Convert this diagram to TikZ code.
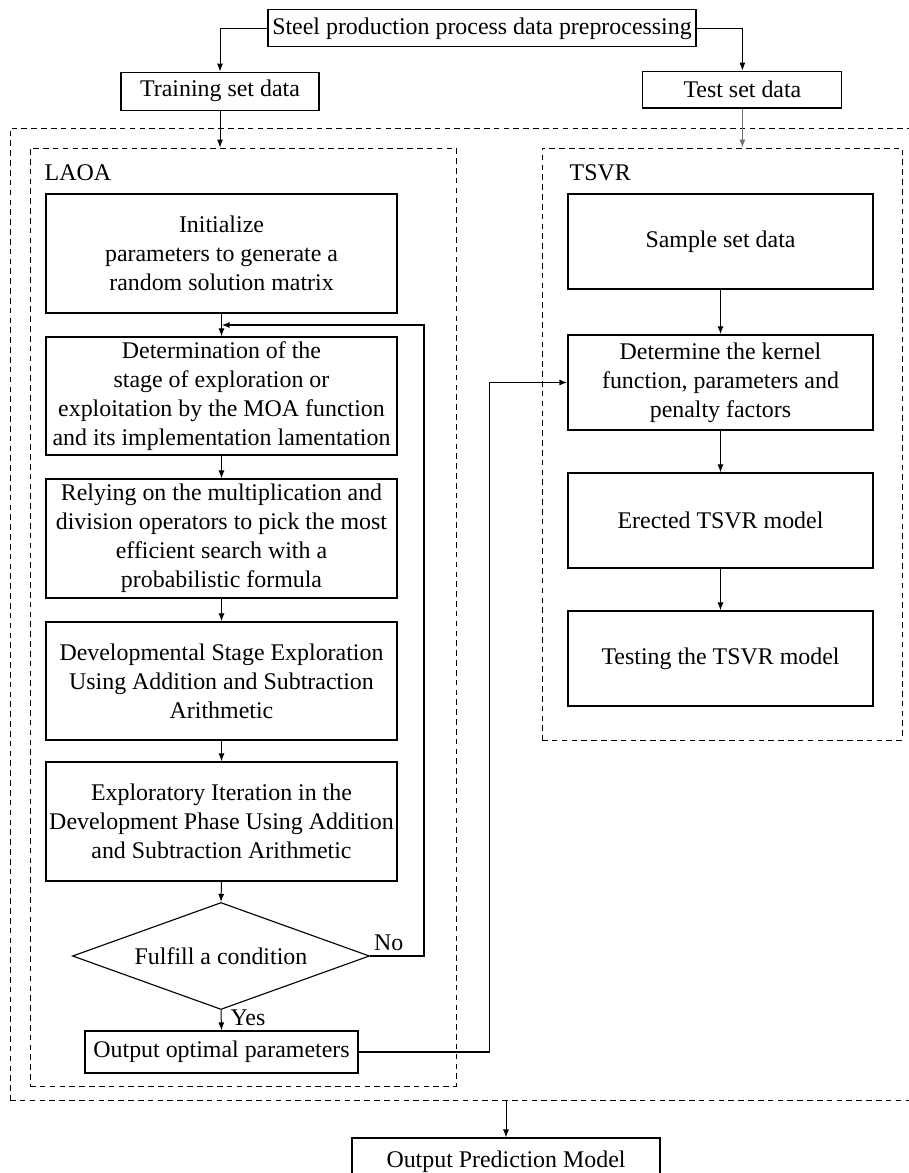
\documentclass[tikz,border=0pt]{standalone}
\usepackage{fontspec}
\setmainfont{Liberation Serif}
\usetikzlibrary{calc,positioning,arrows.meta,shapes.geometric}

\begin{document}
\begin{tikzpicture}[
    every node/.style={font=\fontsize{17}{20.6}\selectfont},
    box/.style={draw, line width=0.8pt, align=center, inner sep=2pt,
                minimum height=0.95cm},
    laobox/.style={box, minimum width=8.775cm, minimum height=2.95cm},
    svrbox/.style={box, minimum width=7.625cm, minimum height=2.375cm},
    frame/.style={draw, line width=0.7pt, dash pattern=on 4pt off 3pt,
                  inner sep=0pt},
    cond/.style={diamond, draw, line width=0.8pt, inner sep=0pt, align=center,
                 shape aspect=2.78, minimum width=7.425cm, minimum height=2.675cm},
    lbl/.style={inner sep=1pt},
    arr/.style={-{Latex[length=2mm,width=1.5mm]}, line width=0.7pt},
    barr/.style={-{Latex[length=2mm,width=1.5mm]}, line width=1.1pt},
    garr/.style={-{Latex[length=2mm,width=1.5mm]}, line width=0.6pt, color=black!55},
  ]
    \useasboundingbox (0,0) rectangle (22.725,-29.325);

    % Entrada de datos
    \node[box, minimum width=10.7cm, minimum height=0.925cm] (steel) at (12.05,-0.71)
        {Steel production process data preprocessing};
    \node[box, minimum width=4.95cm] (train) at (5.5,-2.28) {Training set data};
    \node[box, minimum width=4.975cm, minimum height=0.92cm] (test) at (18.56,-2.24) {Test set data};

    \draw[arr] (steel.west) -| (train.north);
    \draw[arr] (steel.east) -| (test.north);

    % Marcos punteados
    \node[frame, minimum width=22.875cm, minimum height=24.3cm] (outer) at (11.6875,-15.35) {};
    \node[frame, minimum width=10.65cm, minimum height=23.45cm] (laoa) at (6.075,-15.425) {};
    \node[frame, minimum width=9.0cm, minimum height=14.8cm] (tsvr) at (18.05,-11.1) {};
    \node[lbl, anchor=west] (laoalbl) at (1.075,-4.325) {LAOA};
    \node[lbl, anchor=west] (tsvrlbl) at (14.2,-4.325) {TSVR};

    \draw[arr] (train.south) -- (train.south |- laoa.north);
    \draw[garr] (test.south) -- (test.south |- tsvr.north);

    % LAOA
    \node[laobox, minimum height=2.975cm] (init) at (5.5375,-6.3375)
        {Initialize\\parameters to generate a\\random solution matrix};
    \node[laobox] (det) at (5.5375,-9.9)
        {Determination of the\\stage of exploration or\\exploitation by the MOA function\\and its implementation lamentation};
    \node[laobox, minimum height=2.975cm] (rely) at (5.5375,-13.4625)
        {Relying on the multiplication and\\division operators to pick the most\\efficient search with a\\probabilistic formula};
    \node[laobox] (dev) at (5.5375,-17.025)
        {Developmental Stage Exploration\\Using Addition and Subtraction\\Arithmetic};
    \node[laobox, minimum height=2.975cm] (expl) at (5.5375,-20.5375)
        {Exploratory Iteration in the\\Development Phase Using Addition\\and Subtraction Arithmetic};
    \node[cond] (ok) at (5.525,-23.9) {Fulfill a condition};
    \node[box, minimum width=6.825cm, minimum height=1.05cm] (opt) at (5.5375,-26.3)
        {Output optimal parameters};
    \node[lbl] (no) at (9.72,-23.58) {No};
    \node[lbl] (yes) at (6.2,-25.45) {Yes};

    \draw[arr] (init) -- (det);
    \draw[arr] (det) -- (rely);
    \draw[arr] (rely) -- (dev);
    \draw[arr] (dev) -- (expl);
    \draw[arr] (expl.south) -- (ok.north);
    \draw[arr] (ok.south) -- (opt.north);

    \coordinate (back) at ($(init.south)!0.5!(det.north)$);
    \draw[barr] (ok.east) -- ++(1.35,0) |- (back);

    % TSVR
    \node[svrbox] (sample) at (18.0125,-6.0375) {Sample set data};
    \node[svrbox] (kern) at (18.0125,-9.5625)
        {Determine the kernel\\function, parameters and\\penalty factors};
    \node[svrbox] (erect) at (18.0125,-13.0125) {Erected TSVR model};
    \node[svrbox] (testm) at (18.0125,-16.4625) {Testing the TSVR model};

    \draw[barr] (sample) -- (kern);
    \draw[arr] (kern) -- (erect);
    \draw[arr] (erect) -- (testm);

    \draw[barr] (opt.east) -- ++(3.275,0) |- (kern.west);

    % Salida
    \node[box, minimum width=7.7cm, minimum height=1.2cm] (pred) at (12.65,-29.05)
        {Output Prediction Model};
    \draw[arr] (pred.north |- outer.south) -- (pred.north);
\end{tikzpicture}
\end{document}
